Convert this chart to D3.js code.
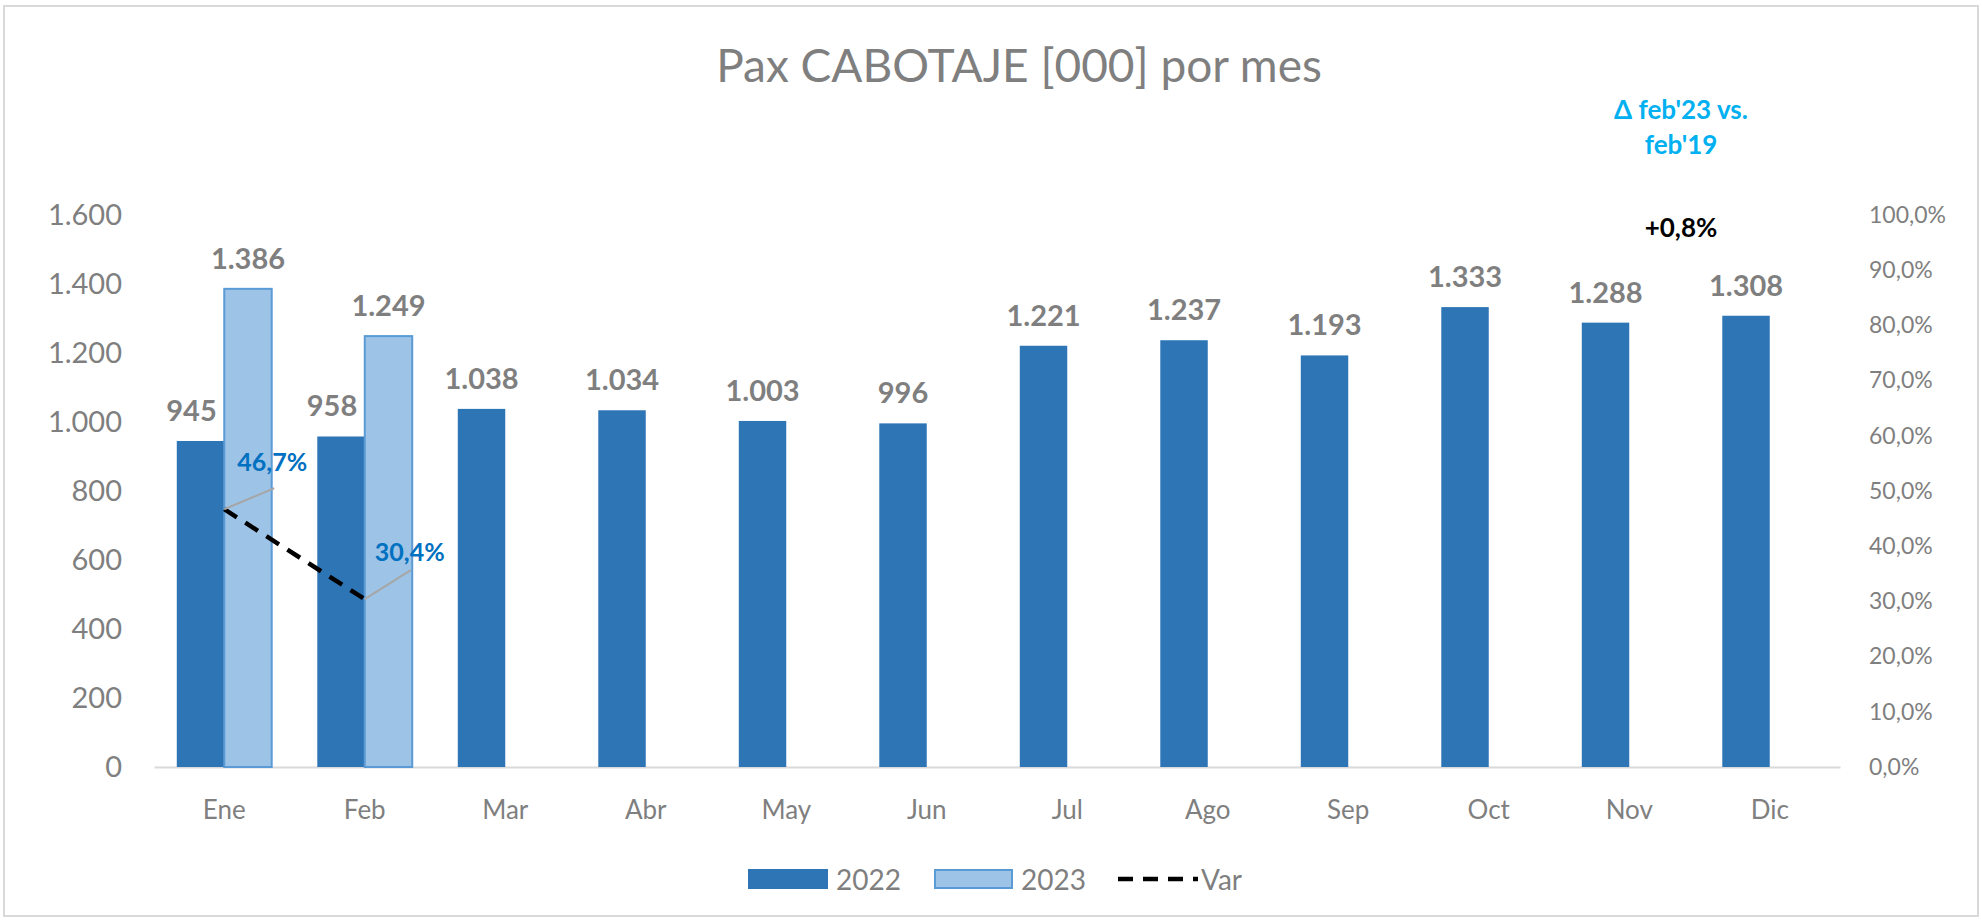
<!DOCTYPE html>
<html>
<head>
<meta charset="utf-8">
<script src="https://cdn.jsdelivr.net/npm/d3@7"></script>
<style>
  body { margin: 0; background: #fff; }
  text { font-family: Lato, "Open Sans", sans-serif; }
</style>
</head>
<body>
<div id="chart-area"></div>
<script>
// data
const months = ["Ene", "Feb", "Mar", "Abr", "May", "Jun", "Jul", "Ago", "Sep", "Oct", "Nov", "Dic"];
const pax2022 = [945, 958, 1038, 1034, 1003, 996, 1221, 1237, 1193, 1333, 1288, 1308];
const pax2023 = [1386, 1249];
const varPct = [0.467, 0.304];
const leftTicks = [0, 200, 400, 600, 800, 1000, 1200, 1400, 1600];
const rightTicks = [0, 0.1, 0.2, 0.3, 0.4, 0.5, 0.6, 0.7, 0.8, 0.9, 1.0];
const series = ["2022", "2023"];

const W = 1982, H = 920;
const PLOT = { LEFT: 154, RIGHT: 1840, TOP: 215, BOTTOM: 767 };
const C2022 = "#2e75b6", C2023 = "#9dc3e6", C2023_EDGE = "#5b9bd5";
const GREY = "#7f7f7f";

const es = d3.formatLocale({ decimal: ",", thousands: ".", grouping: [3], currency: ["", ""] });
const fmtInt = es.format(",d");
const fmtPct = es.format(".1%");

const svg = d3.select("#chart-area").append("svg")
	.attr("width", W)
	.attr("height", H)

// chart frame
svg.append("rect")
	.attr("x", 4).attr("y", 6)
	.attr("width", 1974).attr("height", 910)
	.attr("fill", "#fff")
	.attr("stroke", "#d9d9d9")
	.attr("stroke-width", 2)

svg.append("text")
	.attr("x", 1019)
	.attr("y", 82)
	.attr("text-anchor", "middle")
	.attr("fill", GREY)
	.style("font-size", "46px")
	.text("Pax CABOTAJE [000] por mes");

const x = d3.scaleBand()
	.domain(months)
	.range([PLOT.LEFT, PLOT.RIGHT])

const x1 = d3.scaleBand()
	.domain(series)
	.range([0, x.bandwidth()])
	.paddingOuter(0.48)

const y = d3.scaleLinear()
	.domain([0, 1600])
	.range([PLOT.BOTTOM, PLOT.TOP])

const y2 = d3.scaleLinear()
	.domain([0, 1])
	.range([PLOT.BOTTOM, PLOT.TOP])

// axes
const yAxis = svg.append("g")
	.attr("transform", `translate(${PLOT.LEFT},0)`)
	.call(d3.axisLeft(y).tickValues(leftTicks).tickSize(0).tickPadding(32).tickFormat(fmtInt))
yAxis.select(".domain").remove();
yAxis.selectAll("text").attr("fill", GREY).style("font-size", "29px");

const y2Axis = svg.append("g")
	.attr("transform", `translate(${PLOT.RIGHT},0)`)
	.call(d3.axisRight(y2).tickValues(rightTicks).tickSize(0).tickPadding(29).tickFormat(fmtPct))
y2Axis.select(".domain").remove();
y2Axis.selectAll("text").attr("fill", GREY).style("font-size", "23px");

const xAxis = svg.append("g")
	.attr("transform", `translate(0,${PLOT.BOTTOM})`)
	.call(d3.axisBottom(x).tickSize(0).tickSizeOuter(0).tickPadding(34))
xAxis.select(".domain").attr("stroke", "#d9d9d9").attr("stroke-width", 2);
xAxis.selectAll("text").attr("fill", GREY).style("font-size", "26px");

// bars
const bars2022 = months.map((m, i) => ({ month: m, value: pax2022[i] }));
const bars2023 = pax2023.map((v, i) => ({ month: months[i], value: v }));

svg.selectAll(".bar2022")
	.data(bars2022)
	.enter().append("rect")
	.attr("class", "bar2022")
	.attr("x", d => x(d.month) + x1("2022"))
	.attr("y", d => y(d.value))
	.attr("width", x1.bandwidth())
	.attr("height", d => y(0) - y(d.value))
	.attr("fill", C2022)

svg.selectAll(".bar2023")
	.data(bars2023)
	.enter().append("rect")
	.attr("class", "bar2023")
	.attr("x", d => x(d.month) + x1("2023"))
	.attr("y", d => y(d.value))
	.attr("width", x1.bandwidth())
	.attr("height", d => y(0) - y(d.value))
	.attr("fill", C2023)
	.attr("stroke", C2023_EDGE)
	.attr("stroke-width", 2)

// value labels (the 2022 ones next to a 2023 bar were nudged left in the original)
svg.selectAll(".lbl2022")
	.data(bars2022)
	.enter().append("text")
	.attr("class", "lbl2022")
	.attr("x", (d, i) => x(d.month) + x1("2022") + x1.bandwidth() / 2 - (i < pax2023.length ? 9 : 0))
	.attr("y", d => y(d.value) - 20)
	.attr("text-anchor", "middle")
	.attr("fill", GREY)
	.style("font-size", "29px")
	.style("font-weight", "bold")
	.text(d => fmtInt(d.value))

svg.selectAll(".lbl2023")
	.data(bars2023)
	.enter().append("text")
	.attr("class", "lbl2023")
	.attr("x", d => x(d.month) + x1("2023") + x1.bandwidth() / 2)
	.attr("y", d => y(d.value) - 20)
	.attr("text-anchor", "middle")
	.attr("fill", GREY)
	.style("font-size", "29px")
	.style("font-weight", "bold")
	.text(d => fmtInt(d.value))

// Var line on right axis
const varData = varPct.map((v, i) => ({ month: months[i], value: v }));
const line = d3.line()
	.x(d => x(d.month) + x.bandwidth() / 2)
	.y(d => y2(d.value))

svg.append("path")
	.datum(varData)
	.attr("d", line)
	.attr("fill", "none")
	.attr("stroke", "#000")
	.attr("stroke-width", 4.5)
	.attr("stroke-dasharray", "15,10")

// var labels with leader lines
const varLabelOffset = [{ lx: 50, ly: -21, tx: 48, ty: -38 }, { lx: 46, ly: -29, tx: 45, ty: -38 }];
varData.forEach((d, i) => {
	const px = x(d.month) + x.bandwidth() / 2, py = y2(d.value);
	const o = varLabelOffset[i];
	svg.append("line")
		.attr("x1", px).attr("y1", py)
		.attr("x2", px + o.lx).attr("y2", py + o.ly)
		.attr("stroke", "#a6a6a6")
		.attr("stroke-width", 2)
	svg.append("text")
		.attr("x", px + o.tx)
		.attr("y", py + o.ty)
		.attr("text-anchor", "middle")
		.attr("fill", "#0070c0")
		.style("font-size", "25px")
		.style("font-weight", "bold")
		.text(fmtPct(d.value))
});

// annotation
const note = svg.append("g").attr("text-anchor", "middle").style("font-weight", "bold").style("font-size", "26px");
note.append("text").attr("x", 1681).attr("y", 119).attr("fill", "#00b0f0").text("Δ feb'23 vs.");
note.append("text").attr("x", 1681).attr("y", 154).attr("fill", "#00b0f0").text("feb'19");
note.append("text").attr("x", 1681).attr("y", 237).attr("fill", "#000").text("+0,8%");

// legend
const legend = svg.append("g")
	.style("font-size", "28px")
legend.append("rect").attr("x", 748).attr("y", 869).attr("width", 80).attr("height", 20).attr("fill", C2022)
legend.append("text").attr("x", 836).attr("y", 890).attr("fill", GREY).text("2022")
legend.append("rect").attr("x", 935).attr("y", 870).attr("width", 77).attr("height", 18)
	.attr("fill", C2023).attr("stroke", C2023_EDGE).attr("stroke-width", 2)
legend.append("text").attr("x", 1021).attr("y", 890).attr("fill", GREY).text("2023")
legend.append("line").attr("x1", 1118).attr("x2", 1198).attr("y1", 879).attr("y2", 879)
	.attr("stroke", "#000").attr("stroke-width", 4.5).attr("stroke-dasharray", "15,10")
legend.append("text").attr("x", 1201).attr("y", 890).attr("fill", GREY).text("Var")
</script>
</body>
</html>
